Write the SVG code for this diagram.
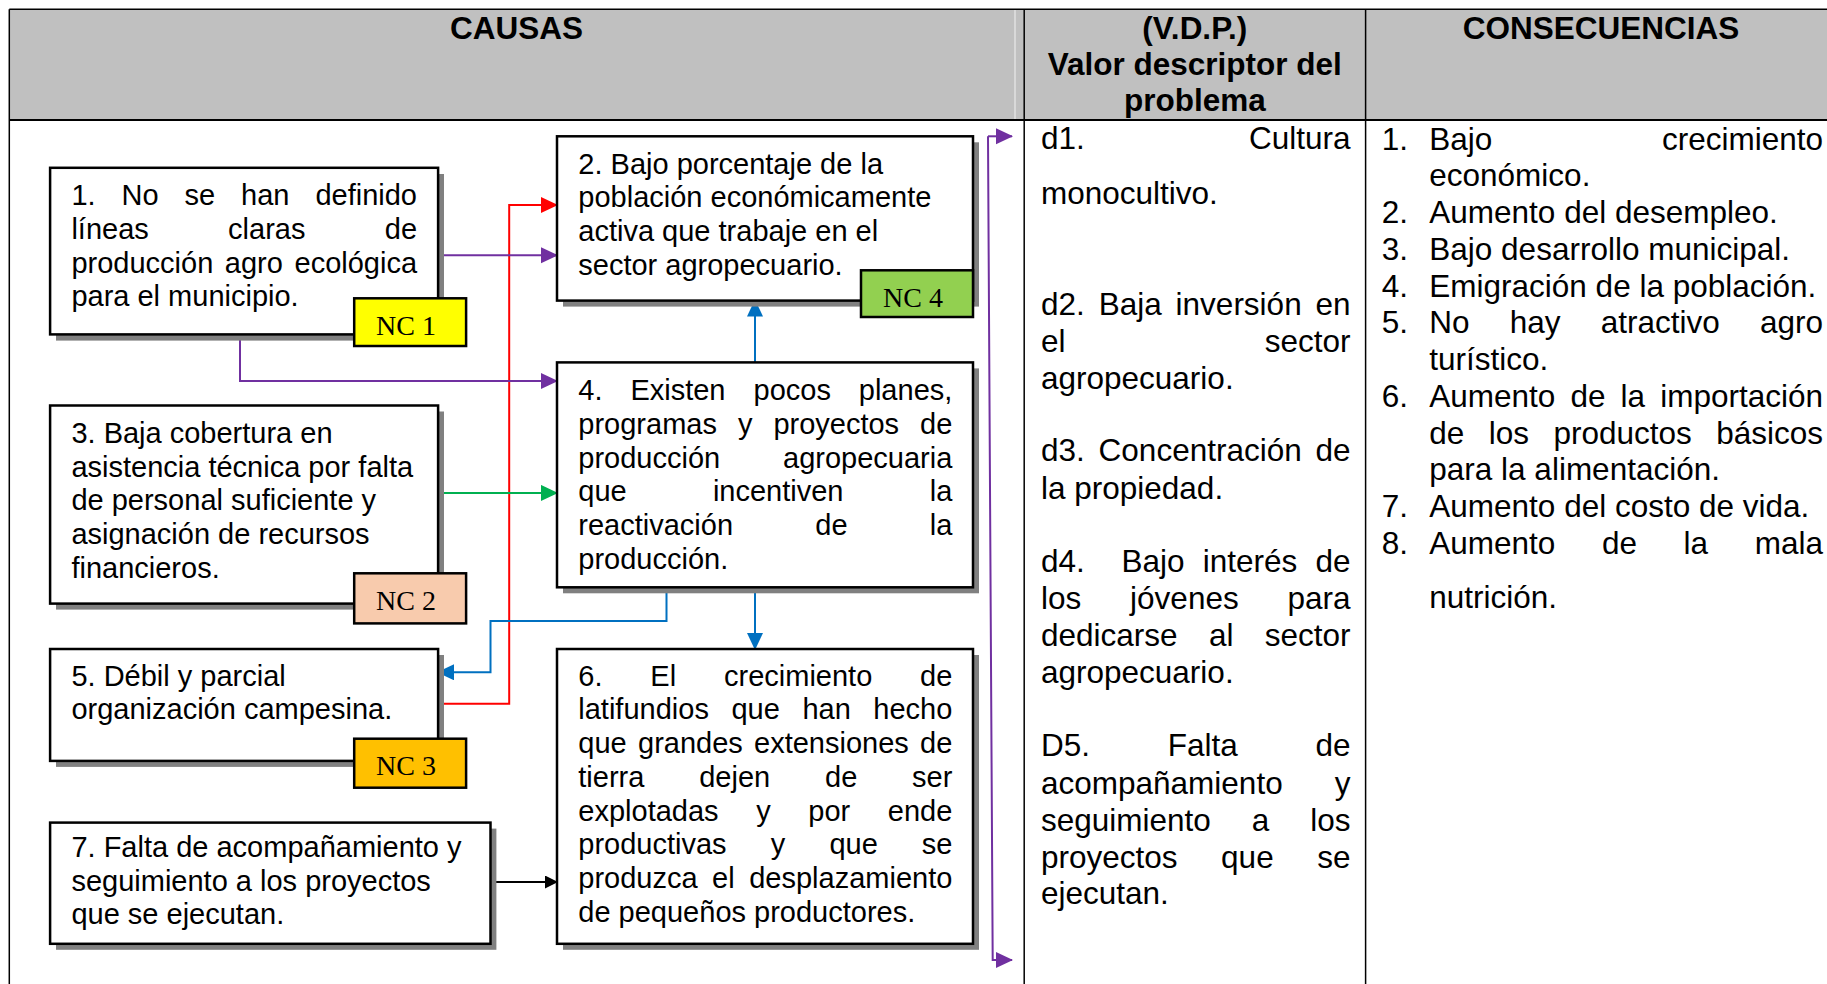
<svg xmlns="http://www.w3.org/2000/svg" width="1827" height="984" viewBox="0 0 1827 984">
<style>
.t{font-family:"Liberation Sans",Arial,sans-serif;font-size:29px;fill:#000}
.v{font-family:"Liberation Sans",Arial,sans-serif;font-size:31.5px;fill:#000}
.h{font-family:"Liberation Sans",Arial,sans-serif;font-size:31.5px;font-weight:bold;fill:#000;text-anchor:middle}
.nc{font-family:"Liberation Serif","Times New Roman",serif;font-size:28px;fill:#000;text-anchor:middle}
.box{fill:#fff;stroke:#000;stroke-width:2.5}
.sh{fill:#808080}
.tag{stroke:#000;stroke-width:2.5}
.grid{stroke:#000;stroke-width:1.5;fill:none}
.c{fill:none;stroke-width:2}
</style>
<defs>
<marker id="aR" markerUnits="userSpaceOnUse" markerWidth="18" markerHeight="18" refX="16" refY="8" orient="auto"><path d="M0,0 L17,8 L0,16 z" fill="#ff0000"/></marker>
<marker id="aP" markerUnits="userSpaceOnUse" markerWidth="18" markerHeight="18" refX="16" refY="8" orient="auto"><path d="M0,0 L17,8 L0,16 z" fill="#7030a0"/></marker>
<marker id="aG" markerUnits="userSpaceOnUse" markerWidth="18" markerHeight="18" refX="16" refY="8" orient="auto"><path d="M0,0 L17,8 L0,16 z" fill="#00b050"/></marker>
<marker id="aB" markerUnits="userSpaceOnUse" markerWidth="18" markerHeight="18" refX="16" refY="8" orient="auto"><path d="M0,0 L17,8 L0,16 z" fill="#0070c0"/></marker>
<marker id="aK" markerUnits="userSpaceOnUse" markerWidth="14" markerHeight="14" refX="12" refY="6.5" orient="auto"><path d="M0,0 L13,6.5 L0,13 z" fill="#000"/></marker>
</defs>

<g id="table">
<rect x="9.3" y="9.3" width="1818" height="110.7" fill="#c0c0c0"/>
<line x1="1015" y1="10" x2="1015" y2="119" stroke="#e2e2e2" stroke-width="1.5"/>
<line class="grid" x1="9.3" y1="9.3" x2="1827" y2="9.3"/>
<line class="grid" x1="9.3" y1="9.3" x2="9.3" y2="984"/>
<line x1="9.3" y1="120" x2="1827" y2="120" stroke="#000" stroke-width="2"/>
<line class="grid" x1="1024.2" y1="9.3" x2="1024.2" y2="984"/>
<line class="grid" x1="1365.6" y1="9.3" x2="1365.6" y2="984"/>
<text class="h" x="516.6" y="38.5">CAUSAS</text>
<text class="h" x="1194.8" y="38.5">(V.D.P.)</text>
<text class="h" x="1194.8" y="74.6">Valor descriptor del</text>
<text class="h" x="1194.8" y="110.7">problema</text>
<text class="h" x="1601" y="38.5">CONSECUENCIAS</text>
</g>

<g id="connectors">
<path class="c" stroke="#ff0000" d="M438,703.8 H509.2 V205 H557" marker-end="url(#aR)"/>
<path class="c" stroke="#7030a0" d="M438,255.2 H557" marker-end="url(#aP)"/>
<path class="c" stroke="#7030a0" d="M240,334.4 V381 H557" marker-end="url(#aP)"/>
<path class="c" stroke="#00b050" d="M438,492.9 H557" marker-end="url(#aG)"/>
<path class="c" stroke="#0070c0" d="M755,362.4 V300.6" marker-end="url(#aB)"/>
<path class="c" stroke="#0070c0" d="M755,587.3 V649" marker-end="url(#aB)"/>
<path class="c" stroke="#0070c0" d="M666.5,587.3 V621 H490.5 V672.3 H438" marker-end="url(#aB)"/>
<path class="c" stroke="#000" d="M490.5,882 H557" marker-end="url(#aK)"/>
<path class="c" stroke="#7030a0" d="M988,136.3 H1012" marker-end="url(#aP)"/>
<path class="c" stroke="#7030a0" d="M988,136.3 L992.7,960 H1012" marker-end="url(#aP)"/>
</g>

<g id="n1">
<rect class="sh" x="56" y="174" width="388" height="166.6"/>
<rect class="box" x="50.1" y="167.8" width="388" height="166.6"/>
<text class="t" y="205"><tspan x="71.4">1.</tspan><tspan x="121.5">No</tspan><tspan x="184.6">se</tspan><tspan x="241.1">han</tspan><tspan x="315.4">definido</tspan></text>
<text class="t" y="238.9"><tspan x="71.4">líneas</tspan><tspan x="228.1">claras</tspan><tspan x="384.75">de</tspan></text>
<text class="t" y="272.7"><tspan x="71.4">producción</tspan><tspan x="224.8">agro</tspan><tspan x="294.5">ecológica</tspan></text>
<text class="t" x="71.4" y="306.4">para el municipio.</text>
</g>
<g id="nc1">
<rect class="tag" x="354.2" y="298.3" width="111.9" height="47.7" fill="#ffff00"/>
<text class="nc" x="406" y="335">NC 1</text>
</g>

<g id="n2">
<rect class="sh" x="563" y="142.3" width="416" height="164.3"/>
<rect class="box" x="557" y="136.3" width="416" height="164.3"/>
<text class="t" x="578.3" y="173.6">2. Bajo porcentaje de la</text>
<text class="t" x="578.3" y="207.3">población económicamente</text>
<text class="t" x="578.3" y="241">activa que trabaje en el</text>
<text class="t" x="578.3" y="274.7">sector agropecuario.</text>
</g>
<g id="nc4">
<rect class="tag" x="861" y="270.3" width="112" height="46.7" fill="#92d050"/>
<text class="nc" x="913" y="307">NC 4</text>
</g>

<g id="n3">
<rect class="sh" x="56" y="411.5" width="388" height="198.1"/>
<rect class="box" x="50.1" y="405.5" width="388" height="198.1"/>
<text class="t" x="71.4" y="442.8">3. Baja cobertura en</text>
<text class="t" x="71.4" y="476.6">asistencia técnica por falta</text>
<text class="t" x="71.4" y="510.4">de personal suficiente y</text>
<text class="t" x="71.4" y="544.2">asignación de recursos</text>
<text class="t" x="71.4" y="578">financieros.</text>
</g>
<g id="nc2">
<rect class="tag" x="354.2" y="573.3" width="111.9" height="50.1" fill="#f8cbad"/>
<text class="nc" x="406" y="610">NC 2</text>
</g>

<g id="n4">
<rect class="sh" x="563" y="368.4" width="416" height="224.9"/>
<rect class="box" x="557" y="362.4" width="416" height="224.9"/>
<text class="t" y="400"><tspan x="578.3">4.</tspan><tspan x="630.4">Existen</tspan><tspan x="753.5">pocos</tspan><tspan x="858.8">planes,</tspan></text>
<text class="t" y="433.75"><tspan x="578.3">programas</tspan><tspan x="737.9">y</tspan><tspan x="773.4">proyectos</tspan><tspan x="920.05">de</tspan></text>
<text class="t" y="467.5"><tspan x="578.3">producción</tspan><tspan x="783.06">agropecuaria</tspan></text>
<text class="t" y="501.25"><tspan x="578.3">que</tspan><tspan x="712.9">incentiven</tspan><tspan x="929.74">la</tspan></text>
<text class="t" y="535"><tspan x="578.3">reactivación</tspan><tspan x="815.3">de</tspan><tspan x="929.74">la</tspan></text>
<text class="t" x="578.3" y="568.75">producción.</text>
</g>

<g id="n5">
<rect class="sh" x="56" y="655" width="388" height="111.9"/>
<rect class="box" x="50.1" y="649" width="388" height="111.9"/>
<text class="t" x="71.4" y="685.7">5. Débil y parcial</text>
<text class="t" x="71.4" y="719.4">organización campesina.</text>
</g>
<g id="nc3">
<rect class="tag" x="354.2" y="738.7" width="111.9" height="49" fill="#ffc000"/>
<text class="nc" x="406" y="775.4">NC 3</text>
</g>

<g id="n6">
<rect class="sh" x="563" y="655" width="416" height="294.8"/>
<rect class="box" x="557" y="649" width="416" height="294.8"/>
<text class="t" y="685.5"><tspan x="578.3">6.</tspan><tspan x="650.3">El</tspan><tspan x="724">crecimiento</tspan><tspan x="920.05">de</tspan></text>
<text class="t" y="719.25"><tspan x="578.3">latifundios</tspan><tspan x="731.4">que</tspan><tspan x="802.4">han</tspan><tspan x="873.3">hecho</tspan></text>
<text class="t" y="753"><tspan x="578.3">que</tspan><tspan x="638">grandes</tspan><tspan x="754">extensiones</tspan><tspan x="920.05">de</tspan></text>
<text class="t" y="786.75"><tspan x="578.3">tierra</tspan><tspan x="699.2">dejen</tspan><tspan x="825">de</tspan><tspan x="912.02">ser</tspan></text>
<text class="t" y="820.5"><tspan x="578.3">explotadas</tspan><tspan x="756.2">y</tspan><tspan x="808.3">por</tspan><tspan x="887.8">ende</tspan></text>
<text class="t" y="854.25"><tspan x="578.3">productivas</tspan><tspan x="770.8">y</tspan><tspan x="829.4">que</tspan><tspan x="921.68">se</tspan></text>
<text class="t" y="888"><tspan x="578.3">produzca</tspan><tspan x="712.1">el</tspan><tspan x="749.21">desplazamiento</tspan></text>
<text class="t" x="578.3" y="921.75">de pequeños productores.</text>
</g>

<g id="n7">
<rect class="sh" x="56" y="828.6" width="440.4" height="121.2"/>
<rect class="box" x="50.1" y="822.6" width="440.4" height="121.2"/>
<text class="t" x="71.4" y="857">7. Falta de acompañamiento y</text>
<text class="t" x="71.4" y="890.7">seguimiento a los proyectos</text>
<text class="t" x="71.4" y="924.4">que se ejecutan.</text>
</g>

<g id="vdp">
<text class="v" y="149"><tspan x="1041">d1.</tspan><tspan x="1248.98">Cultura</tspan></text>
<text class="v" x="1041" y="204">monocultivo.</text>
<text class="v" y="314.6"><tspan x="1041">d2.</tspan><tspan x="1098.7">Baja</tspan><tspan x="1175.6">inversión</tspan><tspan x="1315.47">en</tspan></text>
<text class="v" y="351.9"><tspan x="1041">el</tspan><tspan x="1264.73">sector</tspan></text>
<text class="v" x="1041" y="389">agropecuario.</text>
<text class="v" y="461.4"><tspan x="1041">d3.</tspan><tspan x="1098.6">Concentración</tspan><tspan x="1315.47">de</tspan></text>
<text class="v" x="1041" y="498.7">la propiedad.</text>
<text class="v" y="572"><tspan x="1041">d4.</tspan><tspan x="1121.4">Bajo</tspan><tspan x="1202.7">interés</tspan><tspan x="1315.47">de</tspan></text>
<text class="v" y="609.4"><tspan x="1041">los</tspan><tspan x="1130.1">jóvenes</tspan><tspan x="1287.47">para</tspan></text>
<text class="v" y="645.5"><tspan x="1041">dedicarse</tspan><tspan x="1208.9">al</tspan><tspan x="1264.73">sector</tspan></text>
<text class="v" x="1041" y="682.8">agropecuario.</text>
<text class="v" y="756.2"><tspan x="1041">D5.</tspan><tspan x="1167.7">Falta</tspan><tspan x="1315.47">de</tspan></text>
<text class="v" y="793.5"><tspan x="1041">acompañamiento</tspan><tspan x="1334.75">y</tspan></text>
<text class="v" y="830.8"><tspan x="1041">seguimiento</tspan><tspan x="1251.8">a</tspan><tspan x="1310.24">los</tspan></text>
<text class="v" y="868"><tspan x="1041">proyectos</tspan><tspan x="1221.1">que</tspan><tspan x="1317.24">se</tspan></text>
<text class="v" x="1041" y="904.2">ejecutan.</text>
</g>

<g id="consecuencias">
<text class="v" y="149.5"><tspan x="1381.7">1.</tspan><tspan x="1429.3">Bajo</tspan><tspan x="1661.97">crecimiento</tspan></text>
<text class="v" x="1429.3" y="186.25">económico.</text>
<text class="v" y="223"><tspan x="1381.7">2.</tspan><tspan x="1429.3">Aumento del desempleo.</tspan></text>
<text class="v" y="259.75"><tspan x="1381.7">3.</tspan><tspan x="1429.3">Bajo desarrollo municipal.</tspan></text>
<text class="v" y="296.5"><tspan x="1381.7">4.</tspan><tspan x="1429.3">Emigración de la población.</tspan></text>
<text class="v" y="333.25"><tspan x="1381.7">5.</tspan><tspan x="1429.3">No</tspan><tspan x="1509.8">hay</tspan><tspan x="1600.7">atractivo</tspan><tspan x="1759.97">agro</tspan></text>
<text class="v" x="1429.3" y="370">turístico.</text>
<text class="v" y="406.75"><tspan x="1381.7">6.</tspan><tspan x="1429.3">Aumento</tspan><tspan x="1570.5">de</tspan><tspan x="1620.6">la</tspan><tspan x="1660.2">importación</tspan></text>
<text class="v" y="443.5"><tspan x="1429.3">de</tspan><tspan x="1488.8">los</tspan><tspan x="1553.5">productos</tspan><tspan x="1716.2">básicos</tspan></text>
<text class="v" x="1429.3" y="480.25">para la alimentación.</text>
<text class="v" y="517"><tspan x="1381.7">7.</tspan><tspan x="1429.3">Aumento del costo de vida.</tspan></text>
<text class="v" y="553.75"><tspan x="1381.7">8.</tspan><tspan x="1429.3">Aumento</tspan><tspan x="1602">de</tspan><tspan x="1683.6">la</tspan><tspan x="1754.74">mala</tspan></text>
<text class="v" x="1429.3" y="608.3">nutrición.</text>
</g>
</svg>
